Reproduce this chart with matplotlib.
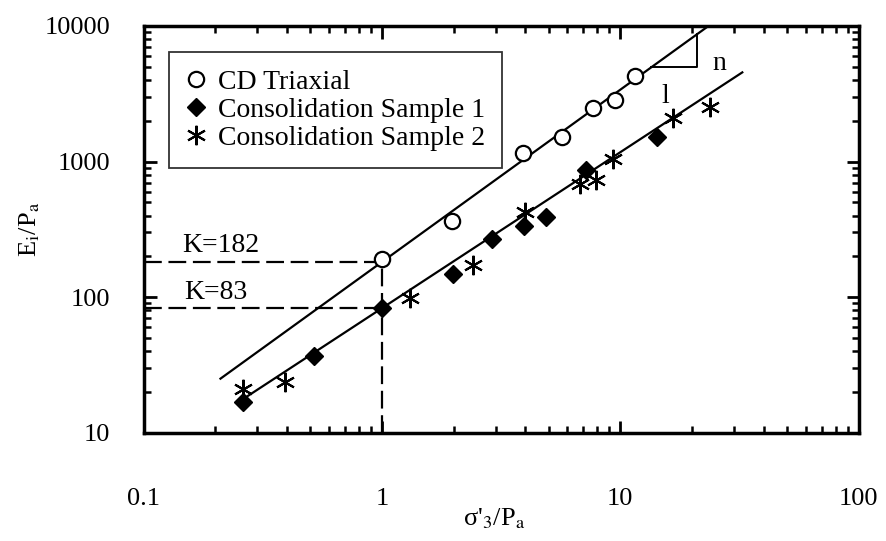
import matplotlib
matplotlib.use("Agg")
import matplotlib.pyplot as plt
import numpy as np

# --- data (sigma'3/Pa, Ei/Pa) ---
cd_x = [1.0, 1.96, 3.9, 5.7, 7.7, 9.5, 11.5]
cd_y = [190, 363, 1160, 1520, 2480, 2860, 4300]

s1_x = [0.26, 0.52, 1.0, 1.98, 2.9, 3.95, 4.9, 7.2, 14.2]
s1_y = [17, 37, 83, 148, 270, 337, 390, 870, 1520]

s2_x = [0.26, 0.39, 1.31, 2.4, 4.0, 6.75, 7.9, 9.3, 16.6, 23.8]
s2_y = [21, 23.5, 99, 173, 427, 680, 730, 1050, 2100, 2540]

# fitted power lines Ei/Pa = K * (s3/Pa)^n
K_cd, n_cd = 182, 1.27
K_s, n_s = 83, 1.15
cd_line_x = [0.21, 23.4]
s_line_x = [0.26, 32.5]

plt.rcParams["font.family"] = ["Liberation Serif", "DejaVu Serif"]
plt.rcParams["mathtext.fontset"] = "stix"

fig = plt.figure(figsize=(8.87, 5.41), dpi=100)
ax = fig.add_axes([0.162, 0.20, 0.806, 0.752])
ax.set_xscale("log"); ax.set_yscale("log")
ax.set_xlim(0.1, 100); ax.set_ylim(10, 10000)

lx = np.array(cd_line_x)
ax.plot(lx, K_cd * lx**n_cd, color="black", lw=1.6)
lx = np.array(s_line_x)
ax.plot(lx, K_s * lx**n_s, color="black", lw=1.6)

# K construction lines
dash = (0, (8, 3))
ax.plot([0.1, 1.0], [K_cd, K_cd], color="black", lw=1.6, linestyle=dash)
ax.plot([0.1, 1.0], [K_s, K_s], color="black", lw=1.6, linestyle=dash)
ax.plot([1.0, 1.0], [10, K_cd], color="black", lw=1.6, linestyle=dash)
ax.text(0.21, 240, "K=182", fontsize=20, ha="center", va="center")
ax.text(0.20, 108, "K=83", fontsize=20, ha="center", va="center")

# slope triangle
x1, x2 = 13.5, 21.0
ax.plot([x1, x2, x2], [K_cd * x1**n_cd, K_cd * x1**n_cd, K_cd * x2**n_cd],
        color="black", lw=1.4)
ax.text(26, 5300, "n", fontsize=20, ha="center", va="center")
ax.text(15.5, 3000, "l", fontsize=20, ha="center", va="center")

ax.plot(cd_x, cd_y, "o", ms=11, mfc="white", mec="black", mew=1.6,
        ls="none", label="CD Triaxial")
ax.plot(s1_x, s1_y, "D", ms=9.5, color="black", ls="none",
        label="Consolidation Sample 1")
ax.plot(s2_x, s2_y, marker=(6, 2, 0), ms=14, mew=1.5, color="black",
        ls="none", label="Consolidation Sample 2")

leg = ax.legend(loc="upper left", bbox_to_anchor=(0.036, 0.935), fontsize=20,
                frameon=True, fancybox=False, edgecolor="black",
                handlelength=0.7, handletextpad=0.45, labelspacing=0.1,
                borderpad=0.6, borderaxespad=0)
leg.get_frame().set_linewidth(1.3)

for s in ax.spines.values():
    s.set_linewidth(2.5)
ax.tick_params(which="both", direction="in", top=True, right=True,
               labelsize=19)
ax.tick_params(which="major", length=9, width=2)
ax.tick_params(which="minor", length=5, width=1.8)
ax.tick_params(axis="x", which="major", pad=40)
ax.tick_params(axis="y", which="major", pad=24)
ax.set_xticks([0.1, 1, 10, 100])
ax.set_xticklabels(["0.1", "1", "10", "100"])
ax.set_yticks([10, 100, 1000, 10000])
ax.set_yticklabels(["10", "100", "1000", "10000"])

ax.set_xlabel(r"σ'$_\mathrm{3}$/P$_\mathrm{a}$", fontsize=19)
ax.xaxis.set_label_coords(0.49, -0.18)
ax.set_ylabel(r"E$_\mathrm{i}$/P$_\mathrm{a}$", fontsize=19)
ax.yaxis.set_label_coords(-0.142, 0.5)

plt.savefig("out.png", dpi=100)
plt.close()
